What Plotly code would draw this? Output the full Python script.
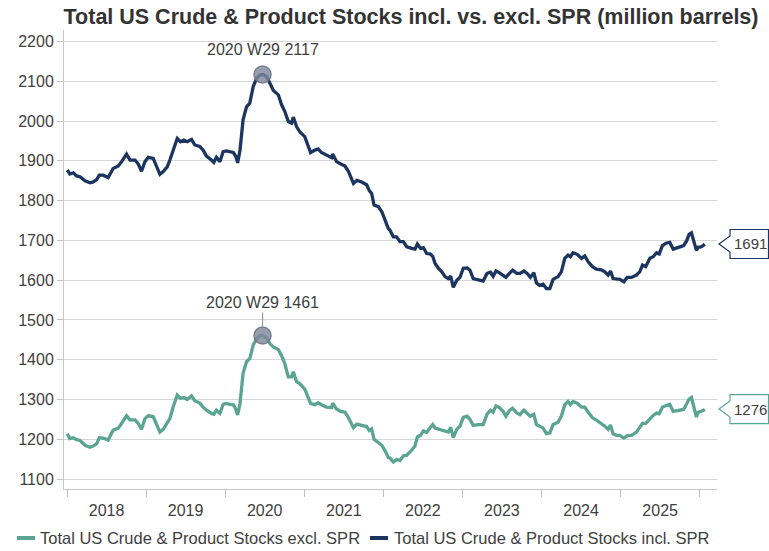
import plotly.graph_objects as go

dates = [
"2018-01-02","2018-01-14","2018-01-30","2018-02-14","2018-03-02","2018-03-25","2018-04-17","2018-05-02","2018-05-18","2018-05-30",
"2018-06-17","2018-07-10","2018-08-02","2018-08-26","2018-09-10","2018-10-03","2018-10-19","2018-11-11","2018-11-26","2018-12-11",
"2018-12-27","2019-01-11","2019-02-03","2019-02-18","2019-03-06","2019-03-21","2019-04-09","2019-04-21","2019-05-06","2019-05-25",
"2019-06-09","2019-06-24","2019-07-10","2019-07-30","2019-08-14","2019-09-06","2019-09-22","2019-10-07","2019-10-30","2019-11-10",
"2019-11-22","2019-12-08","2019-12-23","2020-01-07","2020-01-22","2020-02-08","2020-02-20","2020-02-28","2020-03-10","2020-03-24",
"2020-04-09","2020-04-24","2020-05-10","2020-05-26","2020-06-10","2020-06-22","2020-07-11","2020-07-27","2020-08-11","2020-09-03",
"2020-09-18","2020-10-03","2020-10-19","2020-11-03","2020-11-11","2020-11-26","2020-12-11","2021-01-03","2021-01-19","2021-01-30",
"2021-02-19","2021-03-06","2021-03-21","2021-04-13","2021-05-07","2021-05-12","2021-05-30","2021-06-18","2021-07-08","2021-07-24",
"2021-08-16","2021-09-01","2021-09-23","2021-10-16","2021-10-28","2021-11-08","2021-11-19","2021-12-09","2021-12-25","2022-01-09",
"2022-01-24","2022-01-31","2022-02-16","2022-03-03","2022-03-19","2022-04-03","2022-04-19","2022-05-12","2022-05-27","2022-06-07",
"2022-06-22","2022-07-05","2022-07-20","2022-08-05","2022-08-17","2022-08-28","2022-09-12","2022-09-28","2022-10-13","2022-10-28",
"2022-11-08","2022-11-20","2022-12-06","2022-12-21","2023-01-05","2023-01-23","2023-02-05","2023-02-20","2023-03-15","2023-04-07",
"2023-04-25","2023-05-11","2023-05-23","2023-06-05","2023-06-20","2023-07-09","2023-07-21","2023-08-06","2023-08-21","2023-09-09",
"2023-09-24","2023-10-12","2023-10-27","2023-11-11","2023-11-27","2023-12-09","2023-12-24","2024-01-09","2024-01-24","2024-02-09",
"2024-02-24","2024-03-18","2024-04-02","2024-04-18","2024-05-03","2024-05-14","2024-05-26","2024-06-14","2024-07-04","2024-07-19",
"2024-08-04","2024-08-24","2024-09-11","2024-10-04","2024-10-20","2024-11-04","2024-11-15","2024-11-27","2024-12-13","2024-12-28",
"2025-01-16","2025-01-31","2025-02-20","2025-03-15","2025-03-30","2025-04-12","2025-04-27","2025-05-16","2025-05-31","2025-06-16",
"2025-06-28","2025-07-13","2025-07-29","2025-08-16","2025-09-01","2025-09-16","2025-10-01","2025-10-19","2025-11-01","2025-11-13",
"2025-11-24","2025-12-05","2025-12-17","2025-12-25","2026-01-04","2026-01-17","2026-01-24",
]

incl_spr = [
1877,1867,1870,1862,1860,1850,1845,1847,1853,1864,
1864,1858,1881,1887,1898,1917,1902,1902,1892,1874,
1898,1909,1906,1887,1866,1873,1885,1902,1927,1956,
1948,1952,1948,1954,1940,1936,1927,1912,1902,1896,
1909,1898,1923,1925,1923,1921,1911,1895,1927,2003,
2036,2045,2087,2108,2116,2117,2112,2095,2077,2066,
2041,2024,1999,1995,2010,1986,1973,1961,1940,1921,
1927,1930,1921,1915,1908,1917,1898,1892,1887,1873,
1843,1851,1847,1840,1825,1818,1789,1785,1772,1751,
1730,1726,1709,1709,1697,1697,1684,1680,1678,1691,
1680,1682,1667,1666,1660,1642,1630,1621,1609,1604,
1610,1582,1600,1607,1630,1631,1625,1604,1602,1598,
1617,1620,1610,1623,1619,1612,1607,1617,1625,1617,
1617,1623,1617,1607,1619,1593,1587,1590,1579,1579,
1602,1609,1621,1655,1663,1659,1669,1665,1655,1661,
1646,1634,1628,1626,1621,1613,1623,1604,1602,1602,
1596,1607,1607,1613,1621,1638,1634,1655,1659,1669,
1666,1687,1693,1695,1678,1681,1685,1687,1698,1715,
1719,1698,1675,1683,1683,1687,1691,
]

excl_spr = [
1214,1202,1204,1199,1197,1185,1180,1183,1189,1204,
1203,1198,1223,1228,1240,1259,1249,1249,1240,1225,
1252,1259,1257,1240,1218,1225,1240,1252,1281,1311,
1303,1305,1300,1309,1297,1291,1281,1273,1265,1263,
1273,1265,1288,1290,1288,1287,1275,1261,1290,1366,
1395,1403,1437,1453,1460,1461,1455,1440,1432,1426,
1410,1390,1357,1357,1370,1345,1340,1326,1305,1290,
1287,1292,1287,1281,1280,1291,1276,1270,1268,1254,
1229,1238,1235,1232,1222,1226,1200,1193,1185,1171,
1154,1153,1143,1149,1147,1158,1160,1173,1183,1206,
1210,1221,1217,1229,1237,1228,1226,1222,1221,1218,
1230,1204,1225,1233,1255,1258,1250,1235,1237,1237,
1263,1273,1268,1284,1280,1270,1258,1272,1278,1266,
1262,1273,1265,1258,1263,1237,1233,1228,1214,1216,
1237,1243,1258,1287,1295,1287,1295,1291,1281,1281,
1268,1254,1248,1240,1233,1225,1236,1214,1210,1210,
1203,1209,1210,1218,1229,1240,1240,1252,1260,1266,
1264,1281,1285,1288,1270,1272,1272,1275,1288,1301,
1305,1284,1256,1268,1270,1272,1276,
]

series_names = ["Total US Crude & Product Stocks excl. SPR", "Total US Crude & Product Stocks incl. SPR"]
peak_week_label = "2020 W29"
title_text = "Total US Crude & Product Stocks incl. vs. excl. SPR (million barrels)"

NAVY = "#1c3560"
TEAL = "#5aa591"
FONT = "Liberation Sans, Arial, sans-serif"
TXT = "#404040"

fig = go.Figure()
fig.add_trace(go.Scatter(x=dates, y=excl_spr, mode="lines", line=dict(color=TEAL, width=3.3),
                         name=series_names[0], showlegend=False))
fig.add_trace(go.Scatter(x=dates, y=incl_spr, mode="lines", line=dict(color=NAVY, width=3.3),
                         name=series_names[1], showlegend=False))

# peak markers
pi = max(range(len(incl_spr)), key=lambda i: incl_spr[i])
pe = max(range(len(excl_spr)), key=lambda i: excl_spr[i])
fig.add_trace(go.Scatter(x=[dates[pi], dates[pe]], y=[incl_spr[pi], excl_spr[pe]], mode="markers",
                         marker=dict(size=17, color="rgba(125,135,155,0.8)",
                                     line=dict(color="rgba(110,118,135,0.9)", width=1.5)),
                         showlegend=False, hoverinfo="skip"))

annotations = [
    dict(x=dates[pi], y=incl_spr[pi], xref="x", yref="y", text=f"{peak_week_label} {incl_spr[pi]}",
         showarrow=False, yshift=25, font=dict(family=FONT, size=16, color=TXT)),
    dict(x=dates[pe], y=excl_spr[pe], xref="x", yref="y", text=f"{peak_week_label} {excl_spr[pe]}",
         showarrow=True, ax=0, ay=-33, arrowhead=0, arrowwidth=1.2, arrowcolor="#999999", standoff=9,
         font=dict(family=FONT, size=16, color=TXT)),
]

shapes = []
# end-value callouts
for val, col in [(incl_spr[-1], NAVY), (excl_spr[-1], TEAL)]:
    shapes.append(dict(type="path", xref="paper", yref="y", xsizemode="pixel", ysizemode="pixel",
                       xanchor=1, yanchor=val,
                       path="M2,0 L13,8 L13,14.5 L51.5,14.5 L51.5,-14.5 L13,-14.5 L13,-8 Z",
                       line=dict(color=col, width=1.2), fillcolor="white"))
    annotations.append(dict(x=1, y=val, xref="paper", yref="y", xanchor="center", xshift=33,
                            text=str(val), showarrow=False, font=dict(family=FONT, size=15, color=TXT)))

# custom legend
PW, PH, L, B = 653, 459, 64, 62
def px(x):
    return (x - L) / PW
def py(y):
    return (551 - B - y) / PH
leg_y = 538
for (x0, x1, tx), col, nm in [((17, 35, 38), TEAL, series_names[0]), ((370, 388, 392), NAVY, series_names[1])]:
    shapes.append(dict(type="line", xref="paper", yref="paper", x0=px(x0), x1=px(x1), y0=py(leg_y), y1=py(leg_y),
                       line=dict(color=col, width=4)))
    annotations.append(dict(x=px(tx), y=py(leg_y), xref="paper", yref="paper", xanchor="left", yanchor="middle",
                            text=nm, showarrow=False, font=dict(family=FONT, size=16.5, color=TXT)))

fig.update_layout(
    width=769, height=551,
    margin=dict(l=L, r=52, t=30, b=B),
    paper_bgcolor="white", plot_bgcolor="white",
    title=dict(text=title_text, x=0.5345, xref="container", y=1 - 16 / 551, yref="container",
               xanchor="center", yanchor="middle",
               font=dict(family=FONT, size=21.5, color="#333333", weight="bold")),
    font=dict(family=FONT, size=16, color=TXT),
    shapes=shapes, annotations=annotations,
    xaxis=dict(type="date", range=["2017-12-18", "2026-03-22"], tick0="2018-01-01", dtick="M12",
               ticklabelmode="period", tickformat="%Y", ticks="outside", ticklen=7, tickcolor="#bfbfbf",
               showgrid=False, showline=True, linecolor="#c8c8c8", zeroline=False,
               tickfont=dict(family=FONT, size=16, color=TXT)),
    yaxis=dict(range=[1075, 2229], tick0=1100, dtick=100, ticks="outside", ticklen=6, tickcolor="#bfbfbf",
               showgrid=True, gridcolor="#d6d6d6", gridwidth=1, showline=True, linecolor="#c8c8c8",
               zeroline=False, tickfont=dict(family=FONT, size=16, color=TXT)),
    hovermode=False,
)

fig.write_html("out.html", config={"displayModeBar": False},
               post_script="document.body.style.margin='0px';document.body.style.padding='0px';")
